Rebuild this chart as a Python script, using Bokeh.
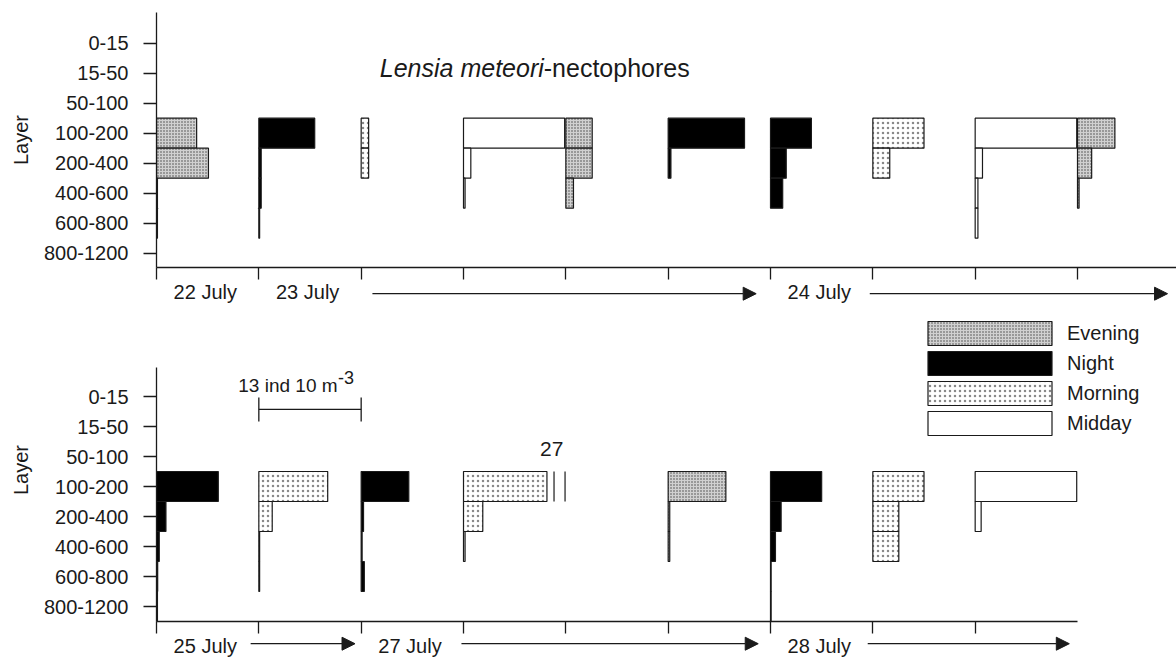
from bokeh.plotting import figure
from bokeh.models import (Range1d, FixedTicker, ColumnDataSource, LabelSet, Arrow,
                          NormalHead, Legend, LegendItem)
from bokeh.layouts import column
from bokeh.core.properties import value
from bokeh.embed import file_html
from bokeh.resources import INLINE

# ---------------- data ----------------
layers = ["0-15", "15-50", "50-100", "100-200", "200-400", "400-600", "600-800", "800-1200"]
periods = ["Evening", "Night", "Morning", "Midday"]
scale_value = 13          # ind 10 m^-3 : width of one station column (scale bar)

top_periods = ["Evening", "Night", "Morning", "Midday", "Evening",
               "Night", "Night", "Morning", "Midday", "Evening"]
top_values = [
    [0, 0, 0, 5.1, 6.6, 0.12, 0.12, 0],
    [0, 0, 0, 7.1, 0.3, 0.3, 0.1, 0],
    [0, 0, 0, 0.95, 0.95, 0, 0, 0],
    [0, 0, 0, 12.85, 0.93, 0.2, 0, 0],
    [0, 0, 0, 3.35, 3.35, 0.97, 0, 0],
    [0, 0, 0, 9.7, 0.35, 0, 0, 0],
    [0, 0, 0, 5.2, 2.0, 1.55, 0, 0],
    [0, 0, 0, 6.5, 2.15, 0, 0, 0],
    [0, 0, 0, 12.9, 0.93, 0.35, 0.35, 0],
    [0, 0, 0, 4.75, 1.8, 0.2, 0, 0],
]
bottom_periods = ["Night", "Morning", "Night", "Morning", "Midday",
                  "Evening", "Night", "Morning", "Midday"]
bottom_values = [
    [0, 0, 0, 7.85, 1.2, 0.35, 0.15, 0.12],
    [0, 0, 0, 8.75, 1.7, 0.1, 0.1, 0],
    [0, 0, 0, 6.05, 0.3, 0.12, 0.4, 0],
    [0, 0, 0, 27, 2.45, 0.2, 0, 0],
    [0, 0, 0, 0, 0, 0, 0, 0],
    [0, 0, 0, 7.33, 0.2, 0.2, 0, 0],
    [0, 0, 0, 6.5, 1.35, 0.63, 0.08, 0.08],
    [0, 0, 0, 6.5, 3.3, 3.3, 0, 0],
    [0, 0, 0, 12.9, 0.76, 0, 0, 0],
]
top_dates = ["22 July", "23 July", "24 July"]
top_date_cols = [0, 1, 6]
bottom_dates = ["25 July", "27 July", "28 July"]
bottom_date_cols = [0, 2, 6]

# ---------------- layout / style ----------------
FONT = "Liberation Sans"
INK = "#1a1a1a"
W = 1176
LEFT = 156
PX_PER_UNIT = 921 / 117.0
X_END = (W - LEFT) / PX_PER_UNIT
BREAK_AT = 10.6           # broken bars drawn to this length (column units)

styles = {
    "Evening": dict(fill_color="#d0d0d0", hatch_pattern="dot", hatch_scale=3,
                    hatch_color="#333333", hatch_alpha=0.9),
    "Night": dict(fill_color="black"),
    "Morning": dict(fill_color="white", hatch_pattern="dot", hatch_scale=5,
                    hatch_color="#111111", hatch_alpha=0.5),
    "Midday": dict(fill_color="white"),
}

x_range = Range1d(0, X_END)


def make_fig(height, y_start, y_end, b_top, b_bottom, n_ticks, x_bounds, y_bounds):
    p = figure(width=W, height=height, output_backend="svg", toolbar_location=None,
               x_range=x_range, y_range=Range1d(y_start, y_end),
               min_border_left=LEFT, min_border_right=0,
               min_border_top=b_top, min_border_bottom=b_bottom)
    p.outline_line_color = None
    p.xgrid.visible = False
    p.ygrid.visible = False
    ya = p.yaxis[0]
    ya.ticker = FixedTicker(ticks=list(range(len(layers))))
    ya.major_label_overrides = {i: s for i, s in enumerate(layers)}
    ya.bounds = y_bounds
    ya.major_tick_out = 13
    ya.major_tick_in = 0
    ya.minor_tick_out = 0
    ya.minor_tick_in = 0
    ya.major_label_standoff = 15
    ya.major_label_text_font = FONT
    ya.major_label_text_font_size = "20px"
    ya.major_label_text_color = INK
    ya.axis_line_color = INK
    ya.axis_line_width = 1.3
    ya.major_tick_line_color = INK
    ya.major_tick_line_width = 1.3
    ya.axis_label = "Layer"
    ya.axis_label_text_font = FONT
    ya.axis_label_text_font_size = "20px"
    ya.axis_label_text_font_style = "normal"
    ya.axis_label_text_color = INK
    ya.axis_label_standoff = 9
    xa = p.xaxis[0]
    ticks = [i * scale_value for i in range(n_ticks)]
    xa.ticker = FixedTicker(ticks=ticks)
    xa.bounds = x_bounds
    xa.major_label_overrides = {t: "" for t in ticks}
    xa.major_label_text_font_size = "0px"
    xa.major_label_standoff = 0
    xa.major_tick_out = 12
    xa.major_tick_in = 0
    xa.minor_tick_out = 0
    xa.minor_tick_in = 0
    xa.axis_line_color = INK
    xa.axis_line_width = 1.3
    xa.major_tick_line_color = INK
    xa.major_tick_line_width = 1.3
    return p


def make_strip(height, y_start, y_end):
    s = figure(width=W, height=height, output_backend="svg", toolbar_location=None,
               x_range=x_range, y_range=Range1d(y_start, y_end),
               x_axis_location=None, y_axis_location=None,
               min_border_left=LEFT, min_border_right=0, min_border_top=0,
               min_border_bottom=0)
    s.outline_line_color = None
    s.xgrid.visible = False
    s.ygrid.visible = False
    return s


def add_bars(p, col_periods, col_values):
    rends = {}
    for per in periods:
        ys, lefts, rights = [], [], []
        for i, (cp, vals) in enumerate(zip(col_periods, col_values)):
            if cp != per:
                continue
            for k, v in enumerate(vals):
                if v <= 0:
                    continue
                left = i * scale_value
                shown = v if v <= scale_value else BREAK_AT
                ys.append(k)
                lefts.append(left)
                rights.append(left + shown)
        src = ColumnDataSource(dict(y=ys, left=lefts, right=rights))
        rends[per] = p.hbar(y="y", left="left", right="right", height=1, source=src,
                            line_color=INK, line_width=1.2, **styles[per])
    return rends


def add_dates(p, dates, cols, y_lab, arrows):
    src = ColumnDataSource(dict(x=[c * scale_value + 6.2 for c in cols], y=[y_lab] * len(cols),
                                text=dates))
    p.add_layout(LabelSet(x="x", y="y", text="text", source=src, text_align="center",
                          text_baseline="middle", text_font=value(FONT),
                          text_font_size="20px", text_color=INK))
    asrc = ColumnDataSource(dict(x0=[a[0] * scale_value for a in arrows],
                                 x1=[a[1] * scale_value for a in arrows],
                                 y0=[a[2] for a in arrows],
                                 y1=[a[2] for a in arrows]))
    p.add_layout(Arrow(end=NormalHead(size=13, fill_color=INK, line_color=INK, line_width=1),
                       source=asrc, x_start="x0", y_start="y0", x_end="x1", y_end="y1",
                       line_color=INK, line_width=1.3))


# ---------------- top panel ----------------
p1 = make_fig(280, 7.477, -1.023, 12, 13, 10, (0, X_END), "auto")
add_bars(p1, top_periods, top_values)
p1.text(x=[49.2], y=[0.82], text=["Lensia meteori"], text_align="right",
        text_baseline="alphabetic", text_font=value(FONT), text_font_size="25px",
        text_font_style="italic", text_color=INK)
p1.text(x=[49.2], y=[0.82], text=["-nectophores"], text_align="left",
        text_baseline="alphabetic", text_font=value(FONT), text_font_size="25px",
        text_color=INK)
s1 = make_strip(38, 9.177, 7.91)
add_dates(s1, top_dates, top_date_cols, 8.28,
          [(2.11, 5.86, 8.35), (6.97, 9.88, 8.35)])

# ---------------- bottom panel ----------------
p2 = make_fig(316, 7.5, -2.6, 0, 13, 9, (0, 9 * scale_value), (-0.967, 7.5))
rb = add_bars(p2, bottom_periods, bottom_values)

# scale bar: one column = 13 ind 10 m^-3
sb_x0, sb_x1 = 1 * scale_value, 2 * scale_value
p2.segment(x0=[sb_x0, sb_x0, sb_x1], y0=[0.43, 0.03, 0.03],
           x1=[sb_x1, sb_x0, sb_x1], y1=[0.43, 0.83, 0.83], line_color=INK, line_width=1.3)
p2.text(x=[23.0], y=[-0.357], text=["13 ind 10 m"], text_align="right",
        text_baseline="alphabetic", text_font=value(FONT), text_font_size="19px",
        text_color=INK)
p2.text(x=[23.05], y=[-0.62], text=["-3"], text_align="left",
        text_baseline="alphabetic", text_font=value(FONT), text_font_size="18px",
        text_color=INK)

# broken bar (27) in the 100-200 layer of column 3
bc = 3 * scale_value
p2.segment(x0=[bc + 11.5, bc + 12.9], y0=[2.5, 2.5], x1=[bc + 11.5, bc + 12.9], y1=[3.5, 3.5],
           line_color=INK, line_width=1.2)
p2.text(x=[bc + 11.2], y=[1.74], text=[str(bottom_values[3][3])], text_align="center",
        text_baseline="middle", text_font=value(FONT), text_font_size="21px", text_color=INK)

legend = Legend(items=[LegendItem(label=per, renderers=[rb[per]]) for per in periods],
                location=(756, 183), orientation="vertical", glyph_width=155, glyph_height=30,
                spacing=0, padding=0, margin=0, label_standoff=0,
                label_text_font=FONT, label_text_font_size="20px", label_text_color=INK,
                border_line_color=None, background_fill_alpha=0)
p2.add_layout(legend)

s2 = make_strip(23, 8.7, 7.933)
add_dates(s2, bottom_dates, bottom_date_cols, 8.3,
          [(0.92, 1.94, 8.24), (2.98, 5.88, 8.24), (6.95, 8.92, 8.24)])

layout = column(p1, s1, p2, s2)
open("out.html", "w").write(file_html(layout, INLINE))
